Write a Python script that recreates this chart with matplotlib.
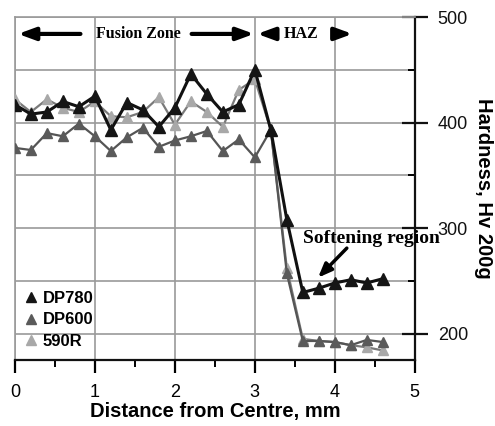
import matplotlib.pyplot as plt
from matplotlib.lines import Line2D
from matplotlib.ticker import MultipleLocator

# distance from centre, mm
dist = [0.0, 0.2, 0.4, 0.6, 0.8, 1.0, 1.2, 1.4, 1.6, 1.8, 2.0, 2.2,
        2.4, 2.6, 2.8, 3.0, 3.2, 3.4, 3.6, 3.8, 4.0, 4.2, 4.4, 4.6]
# hardness Hv 200g
dp780 = [417, 408, 410, 420, 415, 425, 393, 419, 412, 396, 414, 446,
         427, 410, 417, 450, 393, 308, 239, 243, 248, 251, 248, 252]
dp600 = [376, 374, 390, 387, 399, 387, 373, 386, 395, 377, 383, 387,
         392, 373, 384, 367, 393, 257, 193, 193, 192, 189, 194, 192]
r590 = [422, 410, 422, 414, 410, 420, 406, 405, 410, 424, 398, 420,
        410, 396, 431, 441, 393, 262, 195, 193, 192, 189, 187, 184]

names = ["DP780", "DP600", "590R"]
cols = ["#151515", "#5a5a5a", "#a8a8a8"]
linecols = ["#111111", "#555555", "#7a7a7a"]

plt.rcParams['font.family'] = ['Liberation Sans', 'DejaVu Sans']

fig = plt.figure(figsize=(4.95, 4.26), dpi=100)
ax = fig.add_axes([0.030, 0.155, 0.808, 0.805])

ax.plot(dist, r590, color=linecols[2], lw=1.6, marker='^', ms=7,
        mfc=cols[2], mec=cols[2], zorder=3)
ax.plot(dist, dp600, color=linecols[1], lw=1.6, marker='^', ms=7,
        mfc=cols[1], mec=cols[1], zorder=4)
ax.plot(dist, dp780, color=linecols[0], lw=2.2, marker='^', ms=8,
        mfc=cols[0], mec=cols[0], zorder=5)

ax.set_xlim(0, 5)
ax.set_ylim(175, 500)
ax.xaxis.set_major_locator(MultipleLocator(1))
ax.xaxis.set_minor_locator(MultipleLocator(0.5))
ax.yaxis.set_major_locator(MultipleLocator(100))
ax.yaxis.set_minor_locator(MultipleLocator(50))
ax.yaxis.tick_right()
ax.yaxis.set_label_position('right')

ax.grid(which='major', color='#9a9a9a', lw=1.2, zorder=0)
ax.grid(which='minor', axis='y', color='#9a9a9a', lw=1.2, zorder=0)
ax.set_axisbelow(True)

ax.spines['left'].set_color('#9a9a9a')
ax.spines['top'].set_color('#9a9a9a')
ax.spines['left'].set_linewidth(1.2)
ax.spines['top'].set_linewidth(1.2)
ax.spines['right'].set_color('#111111')
ax.spines['bottom'].set_color('#111111')
ax.spines['right'].set_linewidth(1.6)
ax.spines['bottom'].set_linewidth(1.6)

ax.tick_params(axis='y', which='major', direction='inout', length=19, width=1.6,
               pad=7, labelsize=13, colors='#111111')
ax.tick_params(axis='y', which='minor', direction='in', length=5, width=1.4)
ax.tick_params(axis='x', which='major', direction='out', length=9, width=1.6,
               pad=8, labelsize=13)
ax.tick_params(axis='x', which='minor', direction='out', length=5, width=1.4)

ax.set_xlabel("Distance from Centre, mm", fontsize=14.5, fontweight='bold', labelpad=1)
ax.set_ylabel("Hardness, Hv 200g", fontsize=14.5, fontweight='bold',
              rotation=-90, labelpad=18)

# zone arrows
arr = dict(arrowstyle='-|>,head_length=0.6,head_width=0.22', color='k', lw=3,
           mutation_scale=17, shrinkA=0, shrinkB=0)
ax.annotate('', xy=(0.04, 484), xytext=(0.82, 484), arrowprops=arr)
ax.annotate('', xy=(2.99, 484), xytext=(2.21, 484), arrowprops=arr)
ax.text(1.01, 484, "Fusion Zone", family='Liberation Serif', fontweight='bold',
        fontsize=11.5, ha='left', va='center')
ax.annotate('', xy=(3.03, 484), xytext=(3.23, 484), arrowprops=arr)
ax.text(3.36, 484, "HAZ", family='Liberation Serif', fontweight='bold',
        fontsize=11.5, ha='left', va='center')
ax.annotate('', xy=(4.22, 484), xytext=(4.01, 484), arrowprops=arr)

ax.text(3.6, 290, "Softening region", family='Liberation Serif', fontweight='bold',
        fontsize=14, ha='left', va='center')
ax.annotate('', xy=(3.79, 253), xytext=(4.15, 281),
            arrowprops=dict(arrowstyle='-|>,head_length=0.55,head_width=0.22', color='k',
                            lw=2.5, mutation_scale=15, shrinkA=0, shrinkB=0))

handles = [Line2D([], [], ls='none', marker='^', ms=7.5, color=c) for c in cols]
leg = ax.legend(handles, names, loc='lower left', bbox_to_anchor=(-0.01, -0.012),
                frameon=False, handlelength=0.6, handletextpad=0.4,
                labelspacing=0.4, prop={'weight': 'bold', 'size': 12})

fig.savefig("out.png", dpi=100)
